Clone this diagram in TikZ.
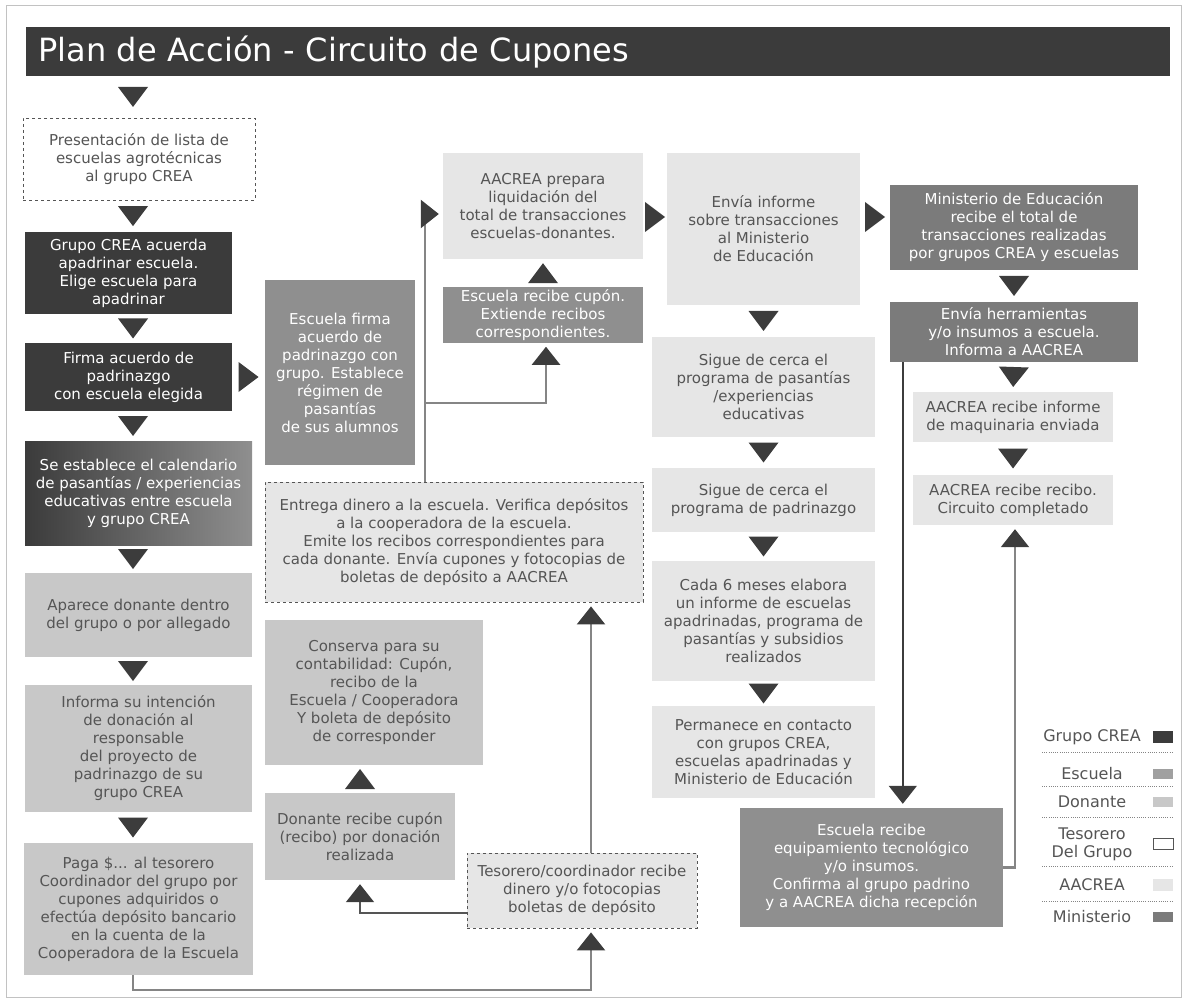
\documentclass[tikz,border=0pt]{standalone}
\usepackage{fontspec}
\setmainfont{DejaVu Sans}
\usepackage{xcolor}
\usetikzlibrary{arrows.meta,decorations.markings}

\definecolor{crea}{HTML}{3B3B3B}
\definecolor{escuela}{HTML}{8F8F8F}
\definecolor{donante}{HTML}{C8C8C8}
\definecolor{tesorero}{HTML}{E6E6E6}
\definecolor{aacrea}{HTML}{E6E6E6}
\definecolor{ministerio}{HTML}{7B7B7B}
\definecolor{textogris}{HTML}{555555}
\definecolor{flecha}{HTML}{3C3C3C}
\definecolor{lineagris}{HTML}{858585}

\begin{document}
\begin{tikzpicture}[x=1pt,y=-1pt,
	caja/.style={rectangle,inner sep=2pt,align=center,font=\fontsize{15}{18}\selectfont},
	creabox/.style={caja,fill=crea,text=white},
	escbox/.style={caja,fill=escuela,text=white},
	donbox/.style={caja,fill=donante,text=textogris},
	tesbox/.style={caja,fill=tesorero,draw=textogris,dashed,line width=0.8pt,text=textogris},
	aabox/.style={caja,fill=aacrea,text=textogris},
	minbox/.style={caja,fill=ministerio,text=white},
	paso/.style={decoration={markings,mark=at position 0.5 with {\fill[flecha] (10pt,0pt) -- (-10pt,15pt) -- (-10pt,-15pt) -- cycle;}},postaction={decorate}},
	linea/.style={draw=lineagris,line width=2.2pt,-{Triangle[length=18pt,width=28pt,color=flecha,fill=flecha]},shorten >=4pt},
	ley/.style={font=\fontsize{16}{18}\selectfont,text=textogris,align=center,inner sep=1pt},
	separa/.style={draw=lineagris,line width=0.8pt,dash pattern=on 1pt off 1.2pt},
]
	\useasboundingbox (0,0) rectangle (1187,1003);
	\draw[lineagris!50,line width=1pt] (6,6) rectangle (1181,997);

	% titulo
	\node[fill=crea,text=white,anchor=north west,text width=1120pt,minimum height=49pt,inner xsep=12pt,align=left,font=\fontsize{32}{36}\selectfont] (titulo) at (26,27) {Plan de Acción - Circuito de Cupones};

	\coordinate (colA) at (133,0);
	\coordinate (fila) at (0,217);

	% columna izquierda
	\node[caja,fill=white,draw=textogris,dashed,line width=0.8pt,text=textogris,minimum width=232pt,minimum height=82pt] (b1) at (139,159) {Presentación de lista de\\escuelas agrotécnicas\\al grupo CREA};
	\node[creabox,minimum width=207pt,minimum height=82pt] (b2) at (128.5,273) {Grupo CREA acuerda\\apadrinar escuela.\\Elige escuela para\\apadrinar};
	\node[creabox,minimum width=207pt,minimum height=68pt] (b3) at (128.5,377) {Firma acuerdo de\\padrinazgo\\con escuela elegida};
	\node[caja,left color=crea,right color=escuela,text=white,minimum width=227pt,minimum height=104pt] (b4) at (138.5,493) {Se establece el calendario\\de pasantías / experiencias\\educativas entre escuela\\y grupo CREA};
	\node[donbox,minimum width=227pt,minimum height=84pt] (b5) at (138.5,615) {Aparece donante dentro\\del grupo o por allegado};
	\node[donbox,minimum width=227pt,minimum height=127pt] (b6) at (138.5,748.5) {Informa su intención\\de donación al\\responsable\\del proyecto de\\padrinazgo de su\\grupo CREA};
	\node[donbox,minimum width=229pt,minimum height=132pt] (b7) at (138.5,909) {Paga \$... al tesorero\\Coordinador del grupo por\\cupones adquiridos o\\efectúa depósito bancario\\en la cuenta de la\\Cooperadora de la Escuela};

	% segunda columna
	\node[escbox,minimum width=150pt,minimum height=185pt] (esc1) at (340,372.5) {Escuela firma\\acuerdo de\\padrinazgo con\\grupo. Establece\\régimen de\\pasantías\\de sus alumnos};
	\node[aabox,minimum width=200pt,minimum height=106pt] (aa1) at (543,206) {AACREA prepara\\liquidación del\\total de transacciones\\escuelas-donantes.};
	\node[escbox,minimum width=200pt,minimum height=54pt] (esc2) at (543,315) {Escuela recibe cupón.\\Extiende recibos\\correspondientes.};
	\node[tesbox,minimum width=378pt,minimum height=120pt] (tes1) at (454,542) {Entrega dinero a la escuela. Verifica depósitos\\a la cooperadora de la escuela.\\Emite los recibos correspondientes para\\cada donante. Envía cupones y fotocopias de\\boletas de depósito a AACREA};
	\node[donbox,minimum width=218pt,minimum height=145pt] (don1) at (374,692.5) {Conserva para su\\contabilidad: Cupón,\\recibo de la\\Escuela / Cooperadora\\Y boleta de depósito\\de corresponder};
	\node[donbox,minimum width=190pt,minimum height=87pt] (don2) at (360,836.5) {Donante recibe cupón\\(recibo) por donación\\realizada};
	\node[tesbox,minimum width=230pt,minimum height=75pt] (tes2) at (582,890.5) {Tesorero/coordinador recibe\\dinero y/o fotocopias\\boletas de depósito};

	% tercera columna
	\node[aabox,minimum width=193pt,minimum height=152pt] (aa2) at (763.5,229) {Envía informe\\sobre transacciones\\al Ministerio\\de Educación};
	\node[aabox,minimum width=223pt,minimum height=100pt] (aa3) at (763.5,387) {Sigue de cerca el\\programa de pasantías\\/experiencias\\educativas};
	\node[aabox,minimum width=223pt,minimum height=64pt] (aa4) at (763.5,500) {Sigue de cerca el\\programa de padrinazgo};
	\node[aabox,minimum width=223pt,minimum height=120pt] (aa5) at (763.5,621) {Cada 6 meses elabora\\un informe de escuelas\\apadrinadas, programa de\\pasantías y subsidios\\realizados};
	\node[aabox,minimum width=223pt,minimum height=92pt] (aa6) at (763.5,752) {Permanece en contacto\\con grupos CREA,\\escuelas apadrinadas y\\Ministerio de Educación};

	% cuarta columna
	\node[minbox,minimum width=248pt,minimum height=85pt] (min1) at (1014,227.5) {Ministerio de Educación\\recibe el total de\\transacciones realizadas\\por grupos CREA y escuelas};
	\node[minbox,minimum width=248pt,minimum height=60pt] (min2) at (1014,332) {Envía herramientas\\y/o insumos a escuela.\\Informa a AACREA};
	\node[aabox,minimum width=200pt,minimum height=50pt] (aa7) at (1013,417) {AACREA recibe informe\\de maquinaria enviada};
	\node[aabox,minimum width=200pt,minimum height=50pt] (aa8) at (1013,500) {AACREA recibe recibo.\\Circuito completado};
	\node[escbox,minimum width=263pt,minimum height=119pt] (esc3) at (871.5,867.5) {Escuela recibe\\equipamiento tecnológico\\y/o insumos.\\Confirma al grupo padrino\\y a AACREA dicha recepción};

	% pasos sin linea
	\path[paso] (titulo.south -| colA) -- (b1.north -| colA);
	\path[paso] (b1.south -| colA) -- (b2.north -| colA);
	\path[paso] (b2.south -| colA) -- (b3.north -| colA);
	\path[paso] (b3.south -| colA) -- (b4.north -| colA);
	\path[paso] (b4.south -| colA) -- (b5.north -| colA);
	\path[paso] (b5.south -| colA) -- (b6.north -| colA);
	\path[paso] (b6.south -| colA) -- (b7.north -| colA);
	\path[paso] (b3.east) -- (b3.east -| esc1.west);
	\path[paso] (esc2.north) -- (aa1.south);
	\path[paso] (don2.north) -- (don2.north |- don1.south);
	\path[paso] (aa1.east |- fila) -- (aa2.west |- fila);
	\path[paso] (aa2.east |- fila) -- (min1.west |- fila);
	\path[paso] (aa2.south) -- (aa3.north);
	\path[paso] (aa3.south) -- (aa4.north);
	\path[paso] (aa4.south) -- (aa5.north);
	\path[paso] (aa5.south) -- (aa6.north);
	\path[paso] (min1.south) -- (min2.north);
	\path[paso] (min2.south) -- (aa7.north);
	\path[paso] (aa7.south) -- (aa8.north);

	% conectores con linea
	\coordinate (rama) at (425,403);
	\draw[linea] ([xshift=160pt]tes1.north west) |- ([yshift=-8pt]aa1.west);
	\draw[linea] (rama) -| ([xshift=3pt]esc2.south);
	\draw[linea] ([xshift=9pt]tes2.north) -- ([xshift=9pt]tes2.north |- tes1.south);
	\draw[linea,draw=textogris,line width=1.8pt] ([yshift=-22.5pt]tes2.west) -| (don2.south);
	\draw[linea] (b7.south -| colA) -- ++(0,15) -| ([xshift=9pt]tes2.south);
	\draw[linea,draw=flecha,line width=1.6pt] ([xshift=13pt]min2.south west) -- ([xshift=13pt]min2.south west |- esc3.north);
	\draw[linea] (esc3.east) -| ([xshift=2pt]aa8.south);

	% leyenda
	\node[ley] (lcrea) at (1092,737) {Grupo CREA};
	\fill[crea] (1153,731) rectangle (1173,743);
	\draw[separa] (1042,752) -- (1173,752);
	\node[ley] (lesc) at (1092,774) {Escuela};
	\fill[escuela!85] (1153,769) rectangle (1173,779);
	\draw[separa] (1042,786) -- (1173,786);
	\node[ley] (ldon) at (1092,802) {Donante};
	\fill[donante] (1153,797) rectangle (1173,807);
	\draw[separa] (1042,817) -- (1173,817);
	\node[ley] (ltes) at (1092,844) {Tesorero\\Del Grupo};
	\draw[textogris,line width=0.8pt] (1153,838) rectangle (1173,849);
	\draw[separa] (1042,866) -- (1173,866);
	\node[ley] (laa) at (1092,885) {AACREA};
	\fill[aacrea] (1153,879) rectangle (1173,891);
	\draw[separa] (1042,901) -- (1173,901);
	\node[ley] (lmin) at (1092,917) {Ministerio};
	\fill[ministerio] (1153,912) rectangle (1173,922);
\end{tikzpicture}
\end{document}
